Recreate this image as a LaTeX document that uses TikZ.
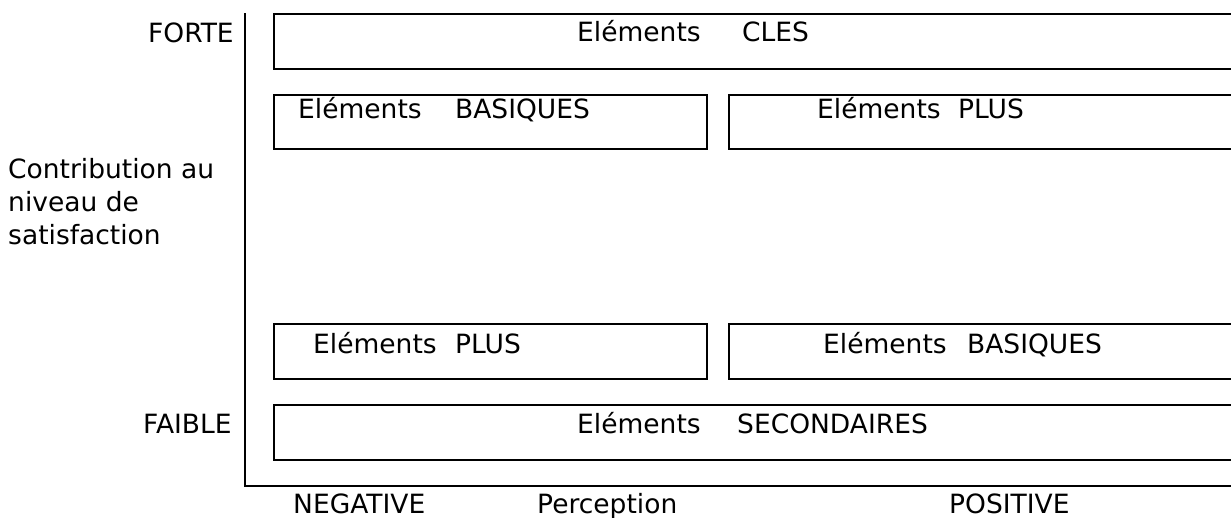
\documentclass[tikz,border=0pt]{standalone}
\usepackage{fontspec}
\setmainfont{DejaVu Sans}
\begin{document}
\begin{tikzpicture}[x=1pt,y=-1pt,
  lbl/.style={anchor=base west,inner sep=0pt,font=\fontsize{26.5}{33}\selectfont},
  boxline/.style={draw=black,line width=2.3pt},
  axisline/.style={draw=black,line width=2.3pt}]
\useasboundingbox (0,0) rectangle (1231,517);
% boxes
\draw[boxline] (274,14) rectangle (1250,69);
\draw[boxline] (274,95) rectangle (707,149);
\draw[boxline] (729,95) rectangle (1250,149);
\draw[boxline] (274,324) rectangle (707,379);
\draw[boxline] (729,324) rectangle (1250,379);
\draw[boxline] (274,405) rectangle (1250,460);
% axes
\coordinate (atop) at (245,13);
\coordinate (aorig) at (245,486);
\coordinate (aright) at (1250,486);
\draw[axisline] (atop) -- (aorig) -- (aright);
% texts
\node[lbl] (forte) at (148,42) {FORTE};
\node[lbl] (faible) at (143,433) {FAIBLE};
\node[lbl] (contrib) at (8,178) {Contribution au};
\node[lbl] (niveau) at (8,211) {niveau de};
\node[lbl] (satis) at (8,244) {satisfaction};
\node[lbl] (cles) at (577,41) {\makebox[165pt][l]{Eléments}CLES};
\node[lbl] (basL) at (298,118) {\makebox[157pt][l]{Eléments}BASIQUES};
\node[lbl] (plusR) at (817,118) {\makebox[141pt][l]{Eléments}PLUS};
\node[lbl] (plusL) at (313,353) {\makebox[142pt][l]{Eléments}PLUS};
\node[lbl] (basR) at (823,353) {\makebox[144pt][l]{Eléments}BASIQUES};
\node[lbl] (sec) at (577,433) {\makebox[160pt][l]{Eléments}SECONDAIRES};
\node[lbl] (neg) at (293,513) {NEGATIVE};
\node[lbl] (perc) at (537,513) {Perception};
\node[lbl] (pos) at (949,513) {POSITIVE};
\end{tikzpicture}
\end{document}
